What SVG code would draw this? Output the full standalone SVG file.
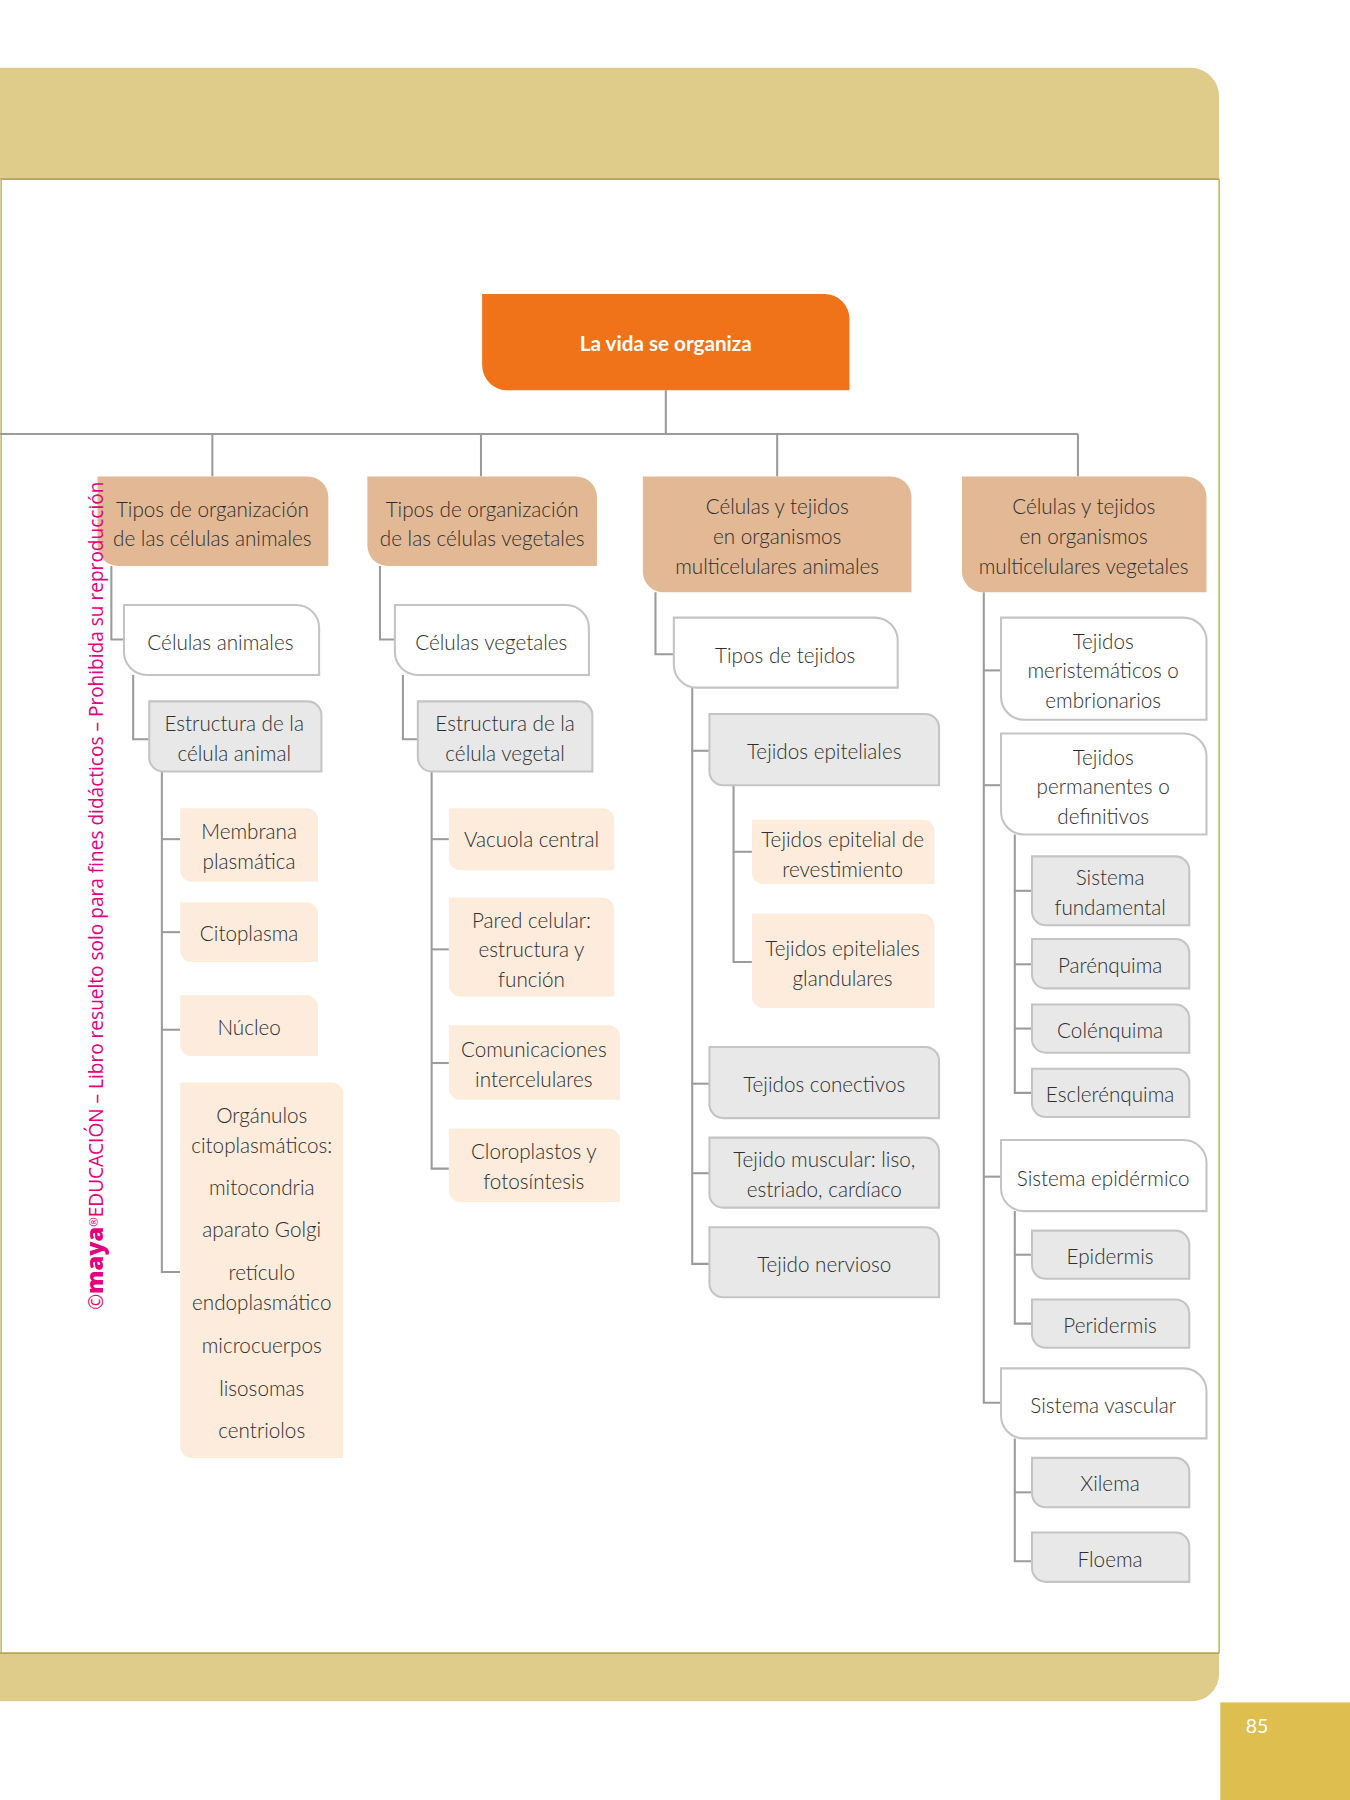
<svg xmlns="http://www.w3.org/2000/svg" width="1350" height="1800" viewBox="0 0 1350 1800">
<style>
.t{font-family:Lato,"Open Sans","Liberation Sans",sans-serif;font-size:18px;font-weight:300;fill:#2e2e2e;text-anchor:middle;dominant-baseline:central}
.tan{fill:#E2B994}
.wht{fill:#FFFFFF;stroke:#C4C4C4;stroke-width:1.8}
.gry{fill:#E8E8E8;stroke:#C4C4C4;stroke-width:1.8}
.pch{fill:#FDEBDC}
.con{fill:none;stroke:#9B9B9B;stroke-width:1.8}
</style>
<rect width="1350" height="1800" fill="#FFFFFF"/>
<g transform="scale(1.147959)">
<g id="frame">
<path d="M0,59 H1037 A25,25 0 0 1 1062,84 V156 H0 Z" fill="#DFCC8A"/>
<line x1="0" y1="156" x2="1062" y2="156" stroke="#B9A456" stroke-width="1.5"/>
<line x1="1" y1="156" x2="1" y2="1440" stroke="#CDB86E" stroke-width="1.5"/>
<line x1="1062" y1="156" x2="1062" y2="1440" stroke="#CDB86E" stroke-width="1.5"/>
<path d="M0,1440 H1062 V1458 A24,24 0 0 1 1038,1482 H0 Z" fill="#DFCC8A"/>
<line x1="0" y1="1440" x2="1062" y2="1440" stroke="#B9A456" stroke-width="1.5"/>
<rect x="1063" y="1483" width="113" height="85" fill="#DDBE4E"/>
<text x="1095" y="1503" class="t" style="fill:#FFFFFF;font-size:17px;font-weight:400">85</text>
</g>
<g id="connectors" class="con">
<polyline points="580,340 580,378"/>
<polyline points="0,378 939,378"/>
<polyline points="185,378 185,415"/>
<polyline points="419,378 419,415"/>
<polyline points="677,378 677,415"/>
<polyline points="939,378 939,415"/>
<polyline points="97,493 97,557 108,557"/>
<polyline points="116,588 116,644 130,644"/>
<polyline points="141,672 141,1108 157,1108"/>
<polyline points="141,731 157,731"/>
<polyline points="141,812 157,812"/>
<polyline points="141,897 157,897"/>
<polyline points="331,493 331,557 344,557"/>
<polyline points="351,588 351,644 364,644"/>
<polyline points="376,672 376,1018 391,1018"/>
<polyline points="376,731 391,731"/>
<polyline points="376,827 391,827"/>
<polyline points="376,926 391,926"/>
<polyline points="571,516 571,570 587,570"/>
<polyline points="603,599 603,1101 618,1101"/>
<polyline points="603,654 618,654"/>
<polyline points="603,944 618,944"/>
<polyline points="603,1022 618,1022"/>
<polyline points="639,684 639,838 655,838"/>
<polyline points="639,742 655,742"/>
<polyline points="857,516 857,1222 872,1222"/>
<polyline points="857,584 872,584"/>
<polyline points="857,684 872,684"/>
<polyline points="857,1025 872,1025"/>
<polyline points="884,727 884,952 899,952"/>
<polyline points="884,776 899,776"/>
<polyline points="884,840 899,840"/>
<polyline points="884,896 899,896"/>
<polyline points="884,1055 884,1153 899,1153"/>
<polyline points="884,1093 899,1093"/>
<polyline points="884,1253 884,1360 899,1360"/>
<polyline points="884,1300 899,1300"/>
</g>
<g id="root">
<path d="M420,256 H718 A22,22 0 0 1 740,278 V340 H442 A22,22 0 0 1 420,318 Z" fill="#F07219"/>
<text x="580" y="299" class="t" style="fill:#FFFFFF;font-weight:700">La vida se organiza</text>
</g>
<g id="n-tipos-animales">
<path class="tan" d="M85,415 H268 A18,18 0 0 1 286,433 V493 H103 A18,18 0 0 1 85,475 Z"/>
<text class="t" x="185" y="443">Tipos de organización</text>
<text class="t" x="185" y="469">de las células animales</text>
</g>
<g id="n-tipos-vegetales">
<path class="tan" d="M320,415 H502 A18,18 0 0 1 520,433 V493 H338 A18,18 0 0 1 320,475 Z"/>
<text class="t" x="420" y="443">Tipos de organización</text>
<text class="t" x="420" y="469">de las células vegetales</text>
</g>
<g id="n-multi-animales">
<path class="tan" d="M560,415 H776 A18,18 0 0 1 794,433 V516 H578 A18,18 0 0 1 560,498 Z"/>
<text class="t" x="677" y="441">Células y tejidos</text>
<text class="t" x="677" y="467">en organismos</text>
<text class="t" x="677" y="493">multicelulares animales</text>
</g>
<g id="n-multi-vegetales">
<path class="tan" d="M838,415 H1033 A18,18 0 0 1 1051,433 V516 H856 A18,18 0 0 1 838,498 Z"/>
<text class="t" x="944" y="441">Células y tejidos</text>
<text class="t" x="944" y="467">en organismos</text>
<text class="t" x="944" y="493">multicelulares vegetales</text>
</g>
<g id="n-celulas-animales">
<path class="wht" d="M108,527 H258 A20,20 0 0 1 278,547 V588 H128 A20,20 0 0 1 108,568 Z"/>
<text class="t" x="192" y="559">Células animales</text>
</g>
<g id="n-celulas-vegetales">
<path class="wht" d="M344,527 H493 A20,20 0 0 1 513,547 V588 H364 A20,20 0 0 1 344,568 Z"/>
<text class="t" x="428" y="559">Células vegetales</text>
</g>
<g id="n-tipos-tejidos">
<path class="wht" d="M587,538 H762 A20,20 0 0 1 782,558 V599 H607 A20,20 0 0 1 587,579 Z"/>
<text class="t" x="684" y="571">Tipos de tejidos</text>
</g>
<g id="n-meristematicos">
<path class="wht" d="M872,538 H1031 A20,20 0 0 1 1051,558 V627 H892 A20,20 0 0 1 872,607 Z"/>
<text class="t" x="961" y="558">Tejidos</text>
<text class="t" x="961" y="584">meristemáticos o</text>
<text class="t" x="961" y="610">embrionarios</text>
</g>
<g id="n-permanentes">
<path class="wht" d="M872,639 H1031 A20,20 0 0 1 1051,659 V727 H892 A20,20 0 0 1 872,707 Z"/>
<text class="t" x="961" y="659">Tejidos</text>
<text class="t" x="961" y="685">permanentes o</text>
<text class="t" x="961" y="711">definitivos</text>
</g>
<g id="n-epidermico">
<path class="wht" d="M872,993 H1031 A20,20 0 0 1 1051,1013 V1055 H892 A20,20 0 0 1 872,1035 Z"/>
<text class="t" x="961" y="1026">Sistema epidérmico</text>
</g>
<g id="n-vascular">
<path class="wht" d="M872,1192 H1031 A20,20 0 0 1 1051,1212 V1253 H892 A20,20 0 0 1 872,1233 Z"/>
<text class="t" x="961" y="1224">Sistema vascular</text>
</g>
<g id="n-estructura-animal">
<path class="gry" d="M130,611 H268 A12,12 0 0 1 280,623 V672 H142 A12,12 0 0 1 130,660 Z"/>
<text class="t" x="204" y="630">Estructura de la</text>
<text class="t" x="204" y="656">célula animal</text>
</g>
<g id="n-estructura-vegetal">
<path class="gry" d="M364,611 H504 A12,12 0 0 1 516,623 V672 H376 A12,12 0 0 1 364,660 Z"/>
<text class="t" x="440" y="630">Estructura de la</text>
<text class="t" x="440" y="656">célula vegetal</text>
</g>
<g id="n-epiteliales">
<path class="gry" d="M618,622 H806 A12,12 0 0 1 818,634 V684 H630 A12,12 0 0 1 618,672 Z"/>
<text class="t" x="718" y="654">Tejidos epiteliales</text>
</g>
<g id="n-conectivos">
<path class="gry" d="M618,912 H806 A12,12 0 0 1 818,924 V974 H630 A12,12 0 0 1 618,962 Z"/>
<text class="t" x="718" y="944">Tejidos conectivos</text>
</g>
<g id="n-muscular">
<path class="gry" d="M618,991 H806 A12,12 0 0 1 818,1003 V1052 H630 A12,12 0 0 1 618,1040 Z"/>
<text class="t" x="718" y="1010">Tejido muscular: liso,</text>
<text class="t" x="718" y="1036">estriado, cardíaco</text>
</g>
<g id="n-nervioso">
<path class="gry" d="M618,1069 H806 A12,12 0 0 1 818,1081 V1130 H630 A12,12 0 0 1 618,1118 Z"/>
<text class="t" x="718" y="1101">Tejido nervioso</text>
</g>
<g id="n-fundamental">
<path class="gry" d="M899,746 H1024 A12,12 0 0 1 1036,758 V806 H911 A12,12 0 0 1 899,794 Z"/>
<text class="t" x="967" y="764">Sistema</text>
<text class="t" x="967" y="790">fundamental</text>
</g>
<g id="n-parenquima">
<path class="gry" d="M899,818 H1024 A12,12 0 0 1 1036,830 V861 H911 A12,12 0 0 1 899,849 Z"/>
<text class="t" x="967" y="841">Parénquima</text>
</g>
<g id="n-colenquima">
<path class="gry" d="M899,875 H1024 A12,12 0 0 1 1036,887 V917 H911 A12,12 0 0 1 899,905 Z"/>
<text class="t" x="967" y="897">Colénquima</text>
</g>
<g id="n-esclerenquima">
<path class="gry" d="M899,931 H1024 A12,12 0 0 1 1036,943 V973 H911 A12,12 0 0 1 899,961 Z"/>
<text class="t" x="967" y="953">Esclerénquima</text>
</g>
<g id="n-epidermis">
<path class="gry" d="M899,1072 H1024 A12,12 0 0 1 1036,1084 V1114 H911 A12,12 0 0 1 899,1102 Z"/>
<text class="t" x="967" y="1094">Epidermis</text>
</g>
<g id="n-peridermis">
<path class="gry" d="M899,1132 H1024 A12,12 0 0 1 1036,1144 V1174 H911 A12,12 0 0 1 899,1162 Z"/>
<text class="t" x="967" y="1154">Peridermis</text>
</g>
<g id="n-xilema">
<path class="gry" d="M899,1270 H1024 A12,12 0 0 1 1036,1282 V1313 H911 A12,12 0 0 1 899,1301 Z"/>
<text class="t" x="967" y="1292">Xilema</text>
</g>
<g id="n-floema">
<path class="gry" d="M899,1335 H1024 A12,12 0 0 1 1036,1347 V1378 H911 A12,12 0 0 1 899,1366 Z"/>
<text class="t" x="967" y="1358">Floema</text>
</g>
<g id="n-membrana">
<path class="pch" d="M157,704 H267 A10,10 0 0 1 277,714 V768 H167 A10,10 0 0 1 157,758 Z"/>
<text class="t" x="217" y="724">Membrana</text>
<text class="t" x="217" y="750">plasmática</text>
</g>
<g id="n-citoplasma">
<path class="pch" d="M157,786 H267 A10,10 0 0 1 277,796 V838 H167 A10,10 0 0 1 157,828 Z"/>
<text class="t" x="217" y="813">Citoplasma</text>
</g>
<g id="n-nucleo">
<path class="pch" d="M157,867 H267 A10,10 0 0 1 277,877 V920 H167 A10,10 0 0 1 157,910 Z"/>
<text class="t" x="217" y="895">Núcleo</text>
</g>
<g id="n-organulos">
<path class="pch" d="M157,943 H289 A10,10 0 0 1 299,953 V1270 H167 A10,10 0 0 1 157,1260 Z"/>
<text class="t" x="228" y="971">Orgánulos</text>
<text class="t" x="228" y="997">citoplasmáticos:</text>
<text class="t" x="228" y="1034">mitocondria</text>
<text class="t" x="228" y="1071">aparato Golgi</text>
<text class="t" x="228" y="1108">retículo</text>
<text class="t" x="228" y="1134">endoplasmático</text>
<text class="t" x="228" y="1172">microcuerpos</text>
<text class="t" x="228" y="1209">lisosomas</text>
<text class="t" x="228" y="1246">centriolos</text>
</g>
<g id="n-vacuola">
<path class="pch" d="M391,704 H525 A10,10 0 0 1 535,714 V758 H401 A10,10 0 0 1 391,748 Z"/>
<text class="t" x="463" y="731">Vacuola central</text>
</g>
<g id="n-pared">
<path class="pch" d="M391,782 H525 A10,10 0 0 1 535,792 V868 H401 A10,10 0 0 1 391,858 Z"/>
<text class="t" x="463" y="801">Pared celular:</text>
<text class="t" x="463" y="827">estructura y</text>
<text class="t" x="463" y="853">función</text>
</g>
<g id="n-comunicaciones">
<path class="pch" d="M391,893 H530 A10,10 0 0 1 540,903 V958 H401 A10,10 0 0 1 391,948 Z"/>
<text class="t" x="465" y="914">Comunicaciones</text>
<text class="t" x="465" y="940">intercelulares</text>
</g>
<g id="n-cloroplastos">
<path class="pch" d="M391,983 H530 A10,10 0 0 1 540,993 V1047 H401 A10,10 0 0 1 391,1037 Z"/>
<text class="t" x="465" y="1003">Cloroplastos y</text>
<text class="t" x="465" y="1029">fotosíntesis</text>
</g>
<g id="n-revestimiento">
<path class="pch" d="M655,714 H804 A10,10 0 0 1 814,724 V770 H665 A10,10 0 0 1 655,760 Z"/>
<text class="t" x="734" y="731">Tejidos epitelial de</text>
<text class="t" x="734" y="757">revestimiento</text>
</g>
<g id="n-glandulares">
<path class="pch" d="M655,796 H804 A10,10 0 0 1 814,806 V878 H665 A10,10 0 0 1 655,868 Z"/>
<text class="t" x="734" y="826">Tejidos epiteliales</text>
<text class="t" x="734" y="852">glandulares</text>
</g>
<g id="watermark">
<text transform="translate(90,1141) rotate(-90)" style="font-family:'Open Sans',Lato,sans-serif;font-size:16.6px;fill:#E4007F"><tspan>©</tspan><tspan style="font-weight:900;font-size:20.5px">maya</tspan><tspan style="font-size:10px" dy="-5">®</tspan><tspan dy="5">EDUCACIÓN – Libro resuelto solo para fines didácticos – Prohibida su reproducción</tspan></text>
</g>
</g>
</svg>
